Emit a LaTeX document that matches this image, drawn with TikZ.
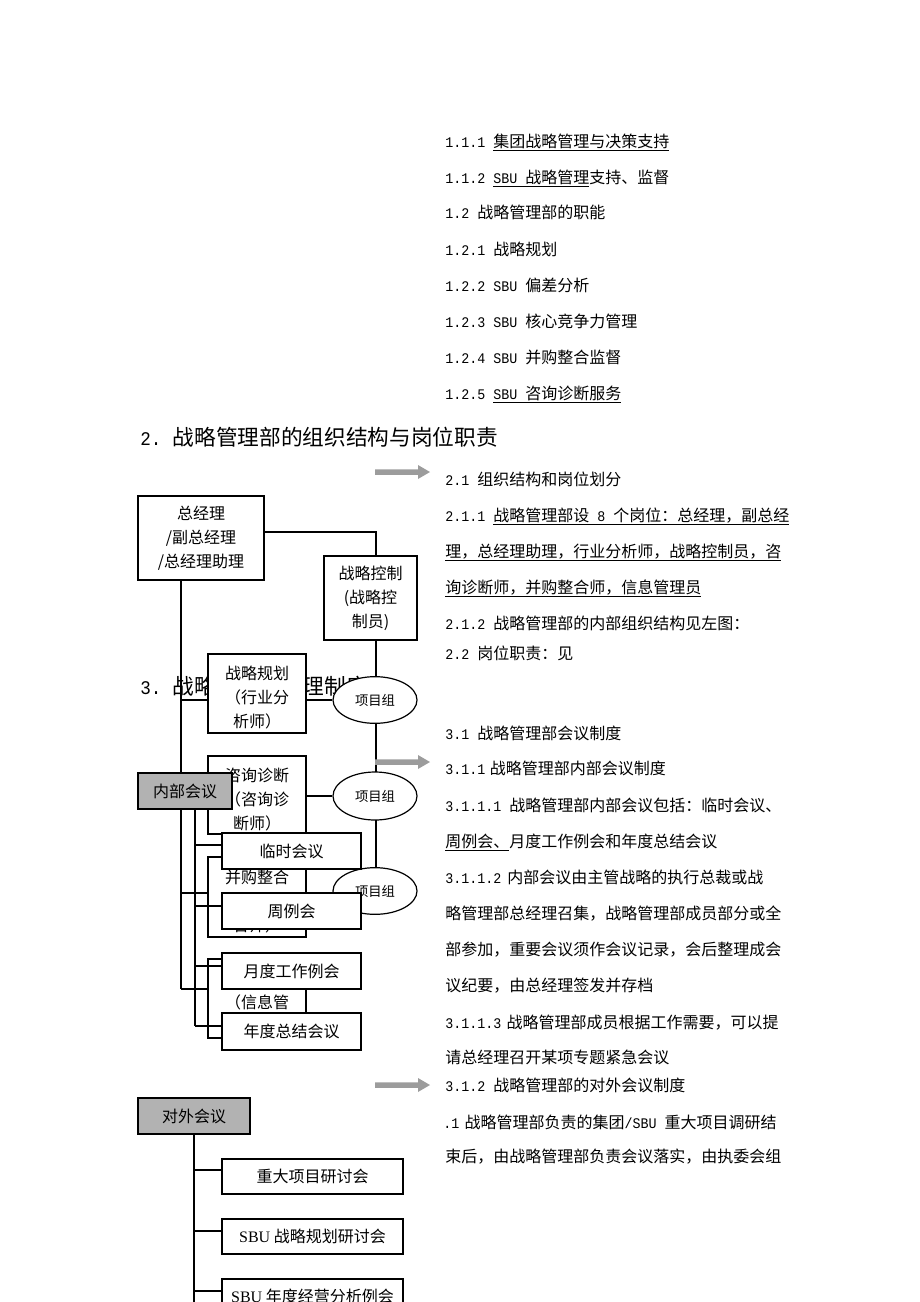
\documentclass[tikz,border=0pt]{standalone}
\usepackage{fontspec}
\setmainfont{Noto Sans CJK SC}
\newfontfamily\cjk{Noto Sans CJK SC}
\newfontfamily\mn[FakeStretch=0.91]{Liberation Mono}
\newfontfamily\tms{Liberation Serif}
\usetikzlibrary{shapes.geometric,calc}
\pgfdeclarelayer{linesA}
\pgfdeclarelayer{linesB}
\pgfdeclarelayer{nodesB}
\pgfsetlayers{linesA,main,linesB,nodesB}
\definecolor{boxgray}{HTML}{B2B2B2}
\definecolor{arrowgray}{HTML}{9C9C9C}
\newcommand\nm[1]{{\mn\fontsize{11}{11}\selectfont #1}}
\newcommand\hm[1]{{\mn\fontsize{14.5}{14.5}\selectfont #1}}
\newcommand\dn{\rule{0pt}{16.5pt}}
\newcommand\garrow[1]{\fill[arrowgray] (#1) ++(0,-2.75) -- ++(43,0) -- ++(0,-4.25) -- ++(12,7) -- ++(-12,7) -- ++(0,-4.25) -- ++(-43,0) -- cycle;}
\tikzset{
  rtext/.style={anchor=base west, inner sep=0pt, font=\cjk\fontsize{12}{14}\selectfont},
  hdtext/.style={anchor=base west, inner sep=0pt, font=\cjk\fontsize{16.25}{18}\selectfont},
  bx/.style={draw=black, line width=0.9pt, fill=white, rectangle, inner sep=0pt, align=center, font=\cjk\fontsize{12}{18}\selectfont},
  gbx/.style={bx, fill=boxgray},
  ovl/.style={ellipse, draw=black, line width=0.9pt, fill=white, inner sep=0pt, minimum width=63pt, minimum height=35pt, font=\cjk\fontsize{10}{12}\selectfont},
  ln/.style={line width=0.9pt, black},
}
\begin{document}
\begin{tikzpicture}[x=0.75pt,y=-0.75pt]
\useasboundingbox (0,0) rectangle (920,1302);

% ---------- right column text ----------
\node[rtext] (t01) at (445,147) {\nm{1.1.1 }\underline{集团战略管理与决策支持}};
\node[rtext] (t02) at (445,183) {\nm{1.1.2 }\underline{\nm{SBU }战略管理}支持、监督};
\node[rtext] (t03) at (445,219) {\nm{1.2 }战略管理部的职能};
\node[rtext] (t04) at (445,255) {\nm{1.2.1 }战略规划};
\node[rtext] (t05) at (445,291) {\nm{1.2.2 SBU }偏差分析};
\node[rtext] (t06) at (445,327) {\nm{1.2.3 SBU }核心竞争力管理};
\node[rtext] (t07) at (445,363) {\nm{1.2.4 SBU }并购整合监督};
\node[rtext] (t08) at (445,399) {\nm{1.2.5 }\underline{\nm{SBU }咨询诊断服务}};
\node[hdtext] (h2) at (140,445) {\hm{2.}\hspace{8.5pt}战略管理部的组织结构与岗位职责};
\node[rtext] (t09) at (445,485) {\nm{2.1 }组织结构和岗位划分};
\node[rtext] (t10) at (445,521) {\nm{2.1.1 }\underline{战略管理部设\nm{ 8 }个岗位：总经理，副总经}};
\node[rtext] (t11) at (445,557) {\underline{理，总经理助理，行业分析师，战略控制员，咨}};
\node[rtext] (t12) at (445,593) {\underline{询诊断师，并购整合师，信息管理员}};
\node[rtext] (t13) at (445,629) {\nm{2.1.2 }战略管理部的内部组织结构见左图：};
\node[rtext] (t14) at (445,659) {\nm{2.2 }岗位职责：见};
\node[hdtext] (h3) at (140,694) {\hm{3.}\hspace{8.5pt}战略管理部管理制度};
\node[rtext] (t15) at (445,739) {\nm{3.1 }战略管理部会议制度};
\node[rtext] (t16) at (445,774) {\nm{3.1.1}\hspace{3.5pt}战略管理部内部会议制度};
\node[rtext] (t17) at (445,811) {\nm{3.1.1.1 }战略管理部内部会议包括：临时会议、};
\node[rtext] (t18) at (445,847) {\underline{周例会、}月度工作例会和年度总结会议};
\node[rtext] (t19) at (445,883) {\nm{3.1.1.2}\hspace{4.5pt}内部会议由主管战略的执行总裁或战};
\node[rtext] (t20) at (445,919) {略管理部总经理召集，战略管理部成员部分或全};
\node[rtext] (t21) at (445,955) {部参加，重要会议须作会议记录，会后整理成会};
\node[rtext] (t22) at (445,991) {议纪要，由总经理签发并存档};
\node[rtext] (t23) at (445,1028) {\nm{3.1.1.3}\hspace{4pt}战略管理部成员根据工作需要，可以提};
\node[rtext] (t24) at (445,1063) {请总经理召开某项专题紧急会议};
\node[rtext] (t25) at (445,1091) {\nm{3.1.2 }战略管理部的对外会议制度};
\node[rtext] (t26) at (443,1128) {\nm{.1}\hspace{4pt}战略管理部负责的集团\nm{/SBU }重大项目调研结};
\node[rtext] (t27) at (445,1162) {束后，由战略管理部负责会议落实，由执委会组};

% ---------- chart 1: organisation ----------
\node[bx, minimum width=94.5pt, minimum height=63pt] (zjl) at (201,538) {总经理\\/副总经理\\/总经理助理};
\node[bx, minimum width=69.75pt, minimum height=63pt] (kz) at (370.5,598) {战略控制\\(战略控\\制员)};
\node[bx, minimum width=73.5pt, minimum height=59.25pt] (gh) at (257,693.5) {\dn 战略规划\\（行业分\\析师）};
\node[bx, minimum width=73.5pt, minimum height=58.5pt] (zx) at (257,795) {\dn 咨询诊断\\（咨询诊\\断师）};
\node[bx, minimum width=73.5pt, minimum height=60pt] (bg) at (257,897) {\dn 并购整合\\（并购整\\合师）};
\node[bx, minimum width=73.5pt, minimum height=59.25pt] (xx) at (257,998.5) {\dn 信息管理\\（信息管\\理员）};
\node[ovl] (e1) at (375,700) {项目组};
\node[ovl, minimum height=36pt] (e2) at (375,796) {项目组};
\node[ovl] (e3) at (375,891) {项目组};

\begin{pgfonlayer}{linesA}
\coordinate (s0) at (181,700);
\coordinate (s1) at (181,795);
\coordinate (s2) at (181,893);
\coordinate (s3) at (181,989);
\coordinate (r1) at (376,532);
\coordinate (r3) at (333,893);
\draw[ln] (zjl.south -| s0) -- (s3);
\draw[ln] (s0) -- (s0 -| gh.west);
\draw[ln] (s1) -- (s1 -| zx.west);
\draw[ln] (s2) -- (s2 -| bg.west);
\draw[ln] (s3) -- (s3 -| xx.west);
\draw[ln] (r1 -| zjl.east) -- (r1) -- (r1 |- kz.north);
\draw[ln] (kz.south -| r1) -- (r1 |- e3.north);
\draw[ln] (gh.east |- e1) -- (e1.west);
\draw[ln] (zx.east |- e2) -- (e2.west);
\draw[ln] (bg.east |- r3) -- (r3);
\end{pgfonlayer}

% ---------- chart 2 and 3: meetings ----------
\begin{pgfonlayer}{nodesB}
\begin{scope}
\clip (0,0) rectangle (920,1302);
\node[gbx, minimum width=70.5pt, minimum height=27pt] (nb) at (185,791) {内部会议};
\node[bx, minimum width=104.25pt, minimum height=27pt] (ls) at (291.5,851) {临时会议};
\node[bx, minimum width=104.25pt, minimum height=27pt] (zl) at (291.5,911) {周例会};
\node[bx, minimum width=104.25pt, minimum height=27pt] (yd) at (291.5,971) {月度工作例会};
\node[bx, minimum width=104.25pt, minimum height=27.75pt] (nd) at (291.5,1031.5) {年度总结会议};
\node[gbx, minimum width=84pt, minimum height=27pt] (dw) at (194,1116) {对外会议};
\node[bx, minimum width=135.75pt, minimum height=26.25pt] (zd) at (312.5,1176.5) {重大项目研讨会};
\node[bx, minimum width=135.75pt, minimum height=26.25pt] (sg) at (312.5,1236.5) {{\tms SBU} 战略规划研讨会};
\node[bx, minimum width=135.75pt, minimum height=26.25pt] (sn) at (312.5,1296.5) {{\tms SBU} 年度经营分析例会};
\coordinate (ga1) at (375,472);
\coordinate (ga2) at (375,762);
\coordinate (ga3) at (375,1085);
\garrow{ga1}
\garrow{ga2}
\garrow{ga3}
\end{scope}
\end{pgfonlayer}

\begin{pgfonlayer}{linesB}
\begin{scope}
\clip (0,0) rectangle (920,1302);
\coordinate (p1) at (195,845);
\coordinate (p2) at (195,906);
\coordinate (p3) at (195,966);
\coordinate (p4) at (195,1026);
\draw[ln] (nb.south -| p1) -- (p4);
\draw[ln] (p1) -- (p1 -| ls.west);
\draw[ln] (p2) -- (p2 -| zl.west);
\draw[ln] (p3) -- (p3 -| yd.west);
\draw[ln] (p4) -- (p4 -| nd.west);
\coordinate (q1) at (194,1170);
\coordinate (q2) at (194,1231);
\coordinate (q3) at (194,1291);
\coordinate (q4) at (194,1302);
\draw[ln] (dw.south -| q1) -- (q4);
\draw[ln] (q1) -- (q1 -| zd.west);
\draw[ln] (q2) -- (q2 -| sg.west);
\draw[ln] (q3) -- (q3 -| sn.west);
\end{scope}
\end{pgfonlayer}
\end{tikzpicture}
\end{document}
